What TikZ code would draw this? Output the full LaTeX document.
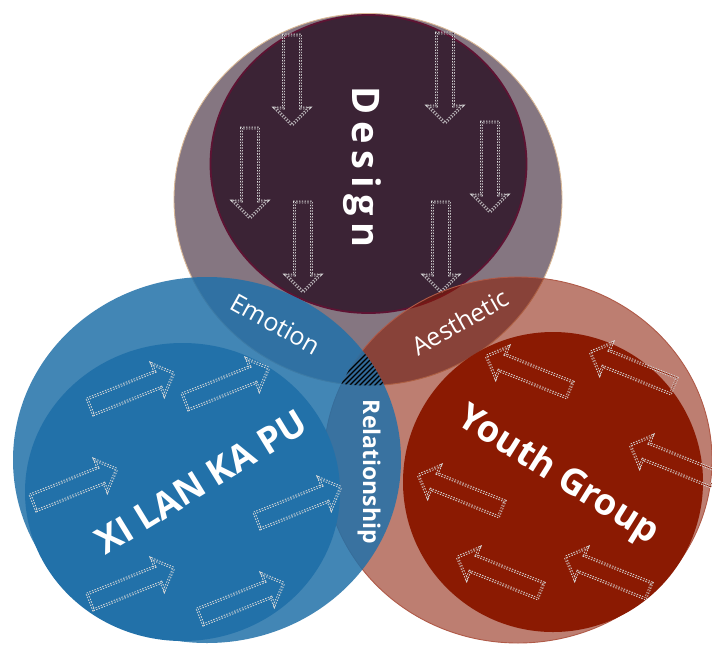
\documentclass[tikz,border=0pt]{standalone}
\usepackage{fontspec}
\setmainfont{Open Sans}
\newfontfamily\widefont[LetterSpace=18]{Open Sans}
\definecolor{plum}{HTML}{3B2335}
\definecolor{plumedge}{HTML}{5E1333}
\definecolor{rimtan}{HTML}{D9B896}
\definecolor{sea}{HTML}{2271A9}
\definecolor{rust}{HTML}{8B1A02}
\definecolor{rustedge}{HTML}{B05A48}
\begin{document}
\begin{tikzpicture}[x=1pt,y=-1pt,
  arrowline/.style={draw=white!85!black, line width=0.95pt,
    dash pattern=on 1.3pt off 1.5pt, double=#1, double distance=1pt,
    line join=miter},
  hollowarrow/.pic={
    \draw[arrowline=#1] (-45,-8.5) -- (28,-8.5) -- (28,-17) -- (45,0)
      -- (28,17) -- (28,8.5) -- (-45,8.5) -- cycle;
  },
  label/.style={text=white, inner sep=0pt},
  bigtitle/.style={label, font=\bfseries\fontsize{36.5}{36.5}\selectfont},
  overlap/.style={label, font=\fontsize{25}{25}\selectfont},
]
\useasboundingbox (0,0) rectangle (712,646);
\fill[white] (0,0) rectangle (712,646);

% Design circle
\path[fill=plum, fill opacity=0.62, draw=rimtan, line width=0.9pt]
  (368,199.5) ellipse [x radius=194pt, y radius=186pt];
\path[fill=plum, draw=plumedge, line width=1.8pt]
  (368.5,164) ellipse [x radius=158pt, y radius=149pt];
\foreach \px/\py [count=\i] in {292/80, 445/78, 250/173, 490/167, 303/247, 441/247}
  \pic[rotate=-90] (dn\i) at (\px,\py) {hollowarrow=plum};

% Youth Group circle
\path[fill=rust, fill opacity=0.56, draw=rustedge, line width=0.9pt]
  (518,460) ellipse [x radius=194pt, y radius=183pt];
\path[fill=rust]
  (553,482) ellipse [x radius=150pt, y radius=150pt];
\foreach \px/\py [count=\i] in {528/373, 632/369, 672/462, 460/492, 499/574, 607/574}
  \pic[rotate=158] (lf\i) at (\px,\py) {hollowarrow=rust};

% XI LAN KA PU circle
\path[fill=sea, fill opacity=0.85]
  (207,460) ellipse [x radius=194pt, y radius=183pt];
\path[fill=sea]
  (182.5,492) ellipse [x radius=157.5pt, y radius=149pt];
\foreach \px/\py [count=\i] in {132/390, 227/385, 75/486, 299/504, 132/585, 242/600}
  \pic[rotate=22] (rt\i) at (\px,\py) {hollowarrow=sea};

% hatched centre shared by all three circles
\begin{scope}
  \clip (368,199.5) ellipse [x radius=194pt, y radius=186pt];
  \clip (207,460) ellipse [x radius=194pt, y radius=183pt];
  \clip (518,460) ellipse [x radius=194pt, y radius=183pt];
  \foreach \k in {0,...,20}
    \draw[black, line width=1.3pt] (320+5*\k,400) -- ++(50,-50);
\end{scope}

% labels
\node[label, rotate=-90, font=\bfseries\fontsize{38}{38}\selectfont\widefont]
  (design) at (362,167) {Design};
\node[bigtitle, rotate=31.5] (xilan) at (201,482) {XI LAN KA PU};
\node[bigtitle, rotate=-32] (youth) at (558,476) {Youth Group};
\node[overlap, rotate=-29] (emotion) at (276,324) {Emotion};
\node[overlap, rotate=29.5] (aesthetic) at (460,322) {Aesthetic};
\node[label, rotate=-90, font=\bfseries\fontsize{23}{23}\selectfont]
  (relation) at (369,472) {Relationship};
\end{tikzpicture}
\end{document}
